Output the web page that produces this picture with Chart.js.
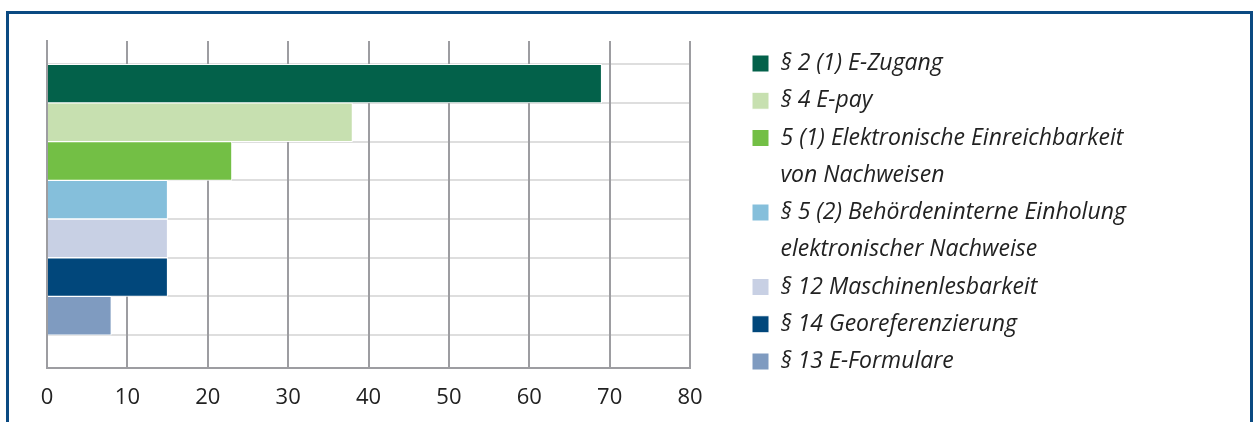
<!DOCTYPE html>
<html>
<head>
<meta charset="utf-8">
<script src="https://cdn.jsdelivr.net/npm/chart.js@4/dist/chart.umd.min.js"></script>
<style>
  html, body { margin: 0; padding: 0; background: #ffffff; width: 1254px; height: 422px; overflow: hidden; }
  #frame { position: absolute; left: 6px; top: 11px; width: 1247px; height: 440px; box-sizing: border-box;
           border: 3px solid #0b4a82; border-bottom: none; }
  #c { position: absolute; left: 0; top: 0; }
</style>
</head>
<body>
<div id="frame"></div>
<canvas id="c" width="1254" height="422"></canvas>
<script>
// ---- data ----
const categories = [
  ['§ 2 (1) E-Zugang'],
  ['§ 4 E-pay'],
  ['5 (1) Elektronische Einreichbarkeit', 'von Nachweisen'],
  ['§ 5 (2) Behördeninterne Einholung', 'elektronischer Nachweise'],
  ['§ 12 Maschinenlesbarkeit'],
  ['§ 14 Georeferenzierung'],
  ['§ 13 E-Formulare']
];
const values = [69, 38, 23, 15, 15, 15, 8];
const colors = ['#03614a', '#c7e0b0', '#73bf45', '#85bfdb', '#c8d0e4', '#01477b', '#7f9bc0'];
const xTickValues = [0, 10, 20, 30, 40, 50, 60, 70, 80];

// ---- chart ----
Chart.defaults.font.family = "'Open Sans', sans-serif";

const datasets = categories.map((label, i) => ({
  label: label,
  data: [{ x: values[i], y: i }],
  backgroundColor: colors[i],
  borderColor: '#ffffff',
  borderWidth: 1,
  grouped: false,
  categoryPercentage: 1,
  barPercentage: 1
}));

const gridGray = '#9d9da1';

// let the legend use the whole space to its right, and the x labels the space below
const widenBoxes = {
  id: 'widenBoxes',
  afterLayout(chart) {
    const lg = chart.legend;
    if (lg) { lg.right = chart.width; lg.width = lg.right - lg.left; }
    const xs = chart.scales.x;
    if (xs) { xs.bottom = chart.height; xs.height = xs.bottom - xs.top; }
  }
};

new Chart(document.getElementById('c'), {
  type: 'bar',
  data: { datasets: datasets },
  plugins: [widenBoxes],
  options: {
    indexAxis: 'y',
    responsive: false,
    maintainAspectRatio: false,
    devicePixelRatio: 1,
    animation: false,
    layout: { padding: { left: 47, right: 402, top: 41, bottom: 23.75 } },
    scales: {
      y: {
        type: 'linear',
        position: 'left',
        reverse: true,
        offset: false,
        min: -1.1,
        max: 7.35,
        afterBuildTicks: (scale) => {
          const t = categories.map((_, i) => ({ value: i - 0.5 }));
          t.push({ value: categories.length - 0.5 });
          scale.ticks = t;
        },
        ticks: { display: false },
        grid: { color: '#dedede', lineWidth: 2, drawTicks: false, offset: false },
        border: { display: true, color: gridGray, width: 2, z: 1 }
      },
      y2: {
        type: 'linear',
        position: 'right',
        offset: false,
        min: 0,
        max: 1,
        grid: { display: false, drawTicks: false },
        ticks: { display: false },
        border: { display: false },
        afterFit: (scale) => { scale.width = 62; }
      },
      x: {
        type: 'linear',
        position: 'bottom',
        min: 0,
        max: 80,
        afterBuildTicks: (scale) => { scale.ticks = xTickValues.map(v => ({ value: v })); },
        afterFit: (scale) => { scale.height = 30.25; },
        ticks: { color: '#222222', padding: 17, font: { size: 22 }, maxRotation: 0 },
        grid: { color: gridGray, lineWidth: 2, drawTicks: false },
        border: { display: true, color: gridGray, width: 2 }
      }
    },
    plugins: {
      tooltip: { enabled: false },
      legend: {
        position: 'right',
        align: 'center',
        maxWidth: 100,
        labels: {
          boxWidth: 17,
          boxHeight: 17,
          padding: 0,
          color: '#222222',
          font: { size: 23, style: 'italic', lineHeight: 37.25 / 23 }
        }
      }
    }
  }
});
</script>
</body>
</html>
